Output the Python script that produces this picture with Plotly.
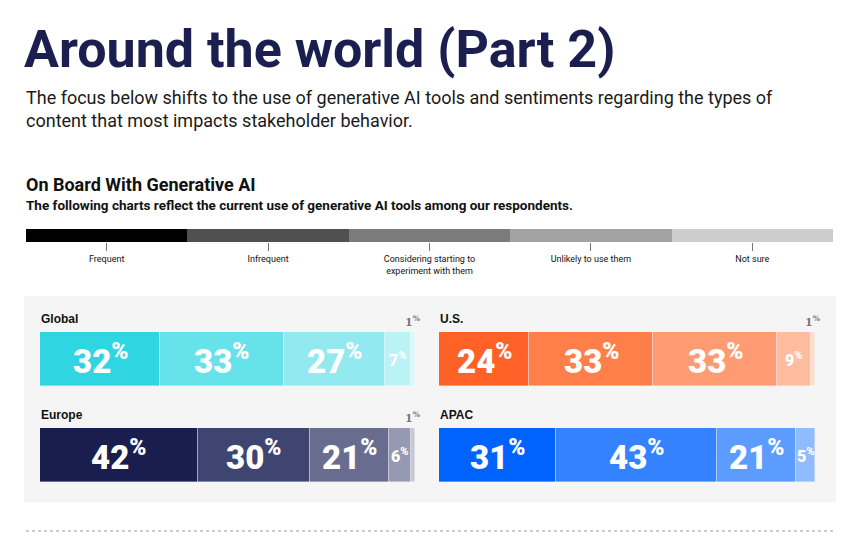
import plotly.graph_objects as go

# The page body has an 8px default margin, so the figure is drawn 8px in.
OFF = 8
W, H = 868 - OFF, 554 - OFF

# ---------------- data ----------------
legend_labels = ["Frequent", "Infrequent", "Considering starting to<br>experiment with them",
                 "Unlikely to use them", "Not sure"]
legend_colors = ["#000000", "#505050", "#7b7b7b", "#a3a3a3", "#cdcdcd"]

regions = ["Global", "U.S.", "Europe", "APAC"]
global_vals = [32, 33, 27, 7, 1]
us_vals = [24, 33, 33, 9, 1]
europe_vals = [42, 30, 21, 6, 1]
apac_vals = [31, 43, 21, 5, 0]

global_colors = ["#2fd6e1", "#66e2ea", "#92eaf0", "#baf2f5", "#dcf9fa"]
us_colors = ["#ff6127", "#ff7f4b", "#ff9b72", "#ffbc9f", "#ffdccc"]
europe_colors = ["#1a1e4f", "#3f4571", "#686c8f", "#9699b2", "#c8c9d6"]
apac_colors = ["#0062ff", "#3482ff", "#5c9cff", "#90bbff", "#c8ddff"]

region_vals = [global_vals, us_vals, europe_vals, apac_vals]
region_colors = [global_colors, us_colors, europe_colors, apac_colors]

# ---------------- helpers ----------------
def px_x(p):
    return (p - OFF) / W

def px_y(p):
    return 1 - (p - OFF) / H

SANS = "Roboto, Lato, DejaVu Sans, sans-serif"
HEAVY = "Roboto, Lato, DejaVu Sans, sans-serif"

fig = go.Figure()

# pixel boxes for the four bars
panel_boxes = [
    (40, 415, 332, 386),
    (439, 815, 332, 386),
    (40, 415, 428, 482),
    (439, 815, 428, 482),
]

# legend bar on axis 1
fig.add_trace(go.Bar(
    x=legend_labels, y=[1] * len(legend_labels),
    marker=dict(color=legend_colors, line=dict(width=0)),
    xaxis="x", yaxis="y", showlegend=False, hoverinfo="skip", width=1,
))

layout_axes = {}
layout_axes["xaxis"] = dict(
    domain=[px_x(26), px_x(833)], anchor="y", type="category",
    ticks="outside", ticklen=8, tickwidth=1, tickcolor="#777777",
    showline=False, showgrid=False, zeroline=False,
    tickfont=dict(family=SANS, size=9, color="#111111"), fixedrange=True,
)
layout_axes["yaxis"] = dict(
    domain=[px_y(242), px_y(229)], anchor="x", range=[0, 1],
    visible=False, fixedrange=True,
)

annotations = []

for k, (name, vals, cols, box) in enumerate(zip(regions, region_vals, region_colors, panel_boxes)):
    ax = k + 2
    xa, ya = f"x{ax}", f"y{ax}"
    x0, x1, y0, y1 = box
    for v, c in zip(vals, cols):
        if v <= 0:
            continue
        fig.add_trace(go.Bar(
            x=[v], y=[0], orientation="h", width=1,
            marker=dict(color=c, line=dict(color="rgba(255,255,255,0.6)", width=0.6)),
            xaxis=xa, yaxis=ya, showlegend=False, hoverinfo="skip",
        ))
    layout_axes[f"xaxis{ax}"] = dict(domain=[px_x(x0), px_x(x1)], anchor=ya,
                                     range=[0, sum(vals)], visible=False, fixedrange=True)
    layout_axes[f"yaxis{ax}"] = dict(domain=[px_y(y1), px_y(y0)], anchor=xa,
                                     range=[-0.5, 0.5], visible=False, fixedrange=True)
    # region label
    annotations.append(dict(
        text=f"<b>{name}</b>", xref="paper", yref="paper",
        x=px_x(x0 - 1), y=px_y(y0 - 13), xanchor="left", yanchor="middle",
        showarrow=False, font=dict(family="Liberation Sans, Arial, sans-serif", size=12, color="#111111"),
    ))
    # value labels
    cum = 0
    for v in vals:
        if v <= 0:
            cum += v
            continue
        cx = cum + v / 2
        if v >= 15:
            annotations.append(dict(
                text=f"{v}<sup>%</sup>", xref=xa, yref=ya, x=cx, y=0,
                xanchor="center", yanchor="middle", showarrow=False,
                font=dict(family=HEAVY, size=33, color="white", weight=900),
            ))
        elif v >= 3:
            annotations.append(dict(
                text=f"{v}<sup>%</sup>", xref=xa, yref=ya, x=cx, y=0,
                xanchor="center", yanchor="middle", showarrow=False,
                font=dict(family=HEAVY, size=16, color="white", weight=900),
            ))
        else:
            annotations.append(dict(
                text=f"{v}<sup>%</sup>", xref=xa, yref=ya, x=cx, y=0.5,
                xanchor="center", yanchor="bottom", yshift=1, showarrow=False,
                font=dict(family="DejaVu Serif, serif", size=11, color="#777777", weight=700),
            ))
        cum += v

# titles
annotations += [
    dict(text="<b>Around the world (Part 2)</b>", xref="paper", yref="paper",
         x=px_x(22), y=px_y(50), xanchor="left", yanchor="middle", showarrow=False,
         font=dict(family=HEAVY, size=52, color="#1b1f50", weight=900)),
    dict(text="The focus below shifts to the use of generative AI tools and sentiments regarding the types of<br>"
              "content that most impacts stakeholder behavior.",
         xref="paper", yref="paper", x=px_x(24), y=px_y(109), xanchor="left", yanchor="middle",
         align="left", showarrow=False, font=dict(family=SANS, size=18, color="#1a1a1a")),
    dict(text="<b>On Board With Generative AI</b>", xref="paper", yref="paper",
         x=px_x(24), y=px_y(185), xanchor="left", yanchor="middle", showarrow=False,
         font=dict(family=SANS, size=18, color="#111111")),
    dict(text="<b>The following charts reflect the current use of generative AI tools among our respondents.</b>",
         xref="paper", yref="paper", x=px_x(24), y=px_y(205), xanchor="left", yanchor="middle",
         showarrow=False, font=dict(family=SANS, size=13.5, color="#111111")),
]

shapes = [
    dict(type="rect", xref="paper", yref="paper", x0=px_x(24), x1=px_x(836),
         y0=px_y(502), y1=px_y(296), fillcolor="#f5f5f5", line=dict(width=0), layer="below"),
    dict(type="line", xref="paper", yref="paper", x0=px_x(26), x1=px_x(833),
         y0=px_y(531), y1=px_y(531), line=dict(color="#9a9a9a", width=1, dash="dot")),
]

fig.update_layout(
    width=W, height=H, margin=dict(l=0, r=0, t=0, b=0),
    paper_bgcolor="white", plot_bgcolor="rgba(0,0,0,0)",
    barmode="stack", bargap=0, showlegend=False,
    annotations=annotations, shapes=shapes, **layout_axes,
)

fig.write_html("out.html")
